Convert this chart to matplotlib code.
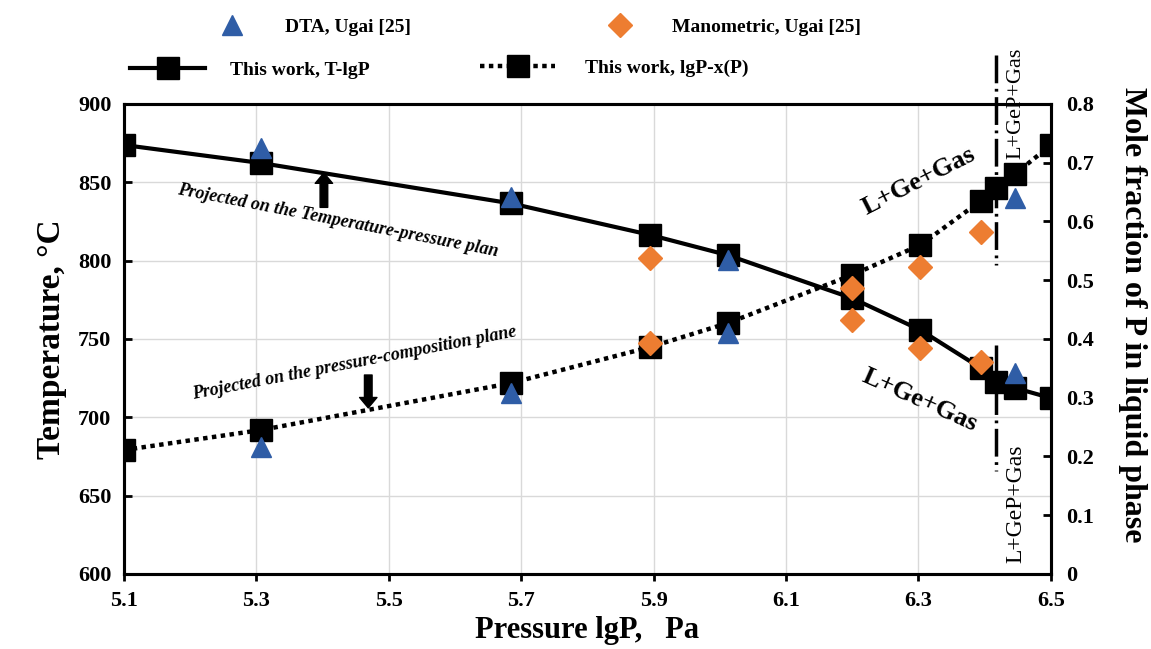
import matplotlib
matplotlib.use("Agg")
import matplotlib.pyplot as plt
from matplotlib.lines import Line2D

plt.rcParams['font.family'] = ['Liberation Serif', 'DejaVu Serif']
plt.rcParams['font.weight'] = 'bold'

# ---------------- data ----------------
lgP_calc = [5.10, 5.307, 5.685, 5.894, 6.012, 6.20, 6.303, 6.394, 6.417, 6.446, 6.50]
T_calc = [873.8, 862.3, 836.5, 816.5, 803.5, 776.0, 755.7, 731.5, 722.6, 718.7, 712.3]
xP_calc = [0.211, 0.245, 0.325, 0.386, 0.427, 0.509, 0.560, 0.635, 0.657, 0.681, 0.730]

lgP_dta = [5.307, 5.685, 6.012, 6.446]
T_dta = [872.0, 840.6, 800.5, 728.0]
xP_dta = [0.216, 0.308, 0.410, 0.640]

lgP_man = [5.894, 6.20, 6.303, 6.394]
T_man = [802.0, 762.0, 744.0, 735.0]
xP_man = [0.393, 0.487, 0.523, 0.582]

x_boundary = 6.417

x_ticks = [5.1, 5.3, 5.5, 5.7, 5.9, 6.1, 6.3, 6.5]
T_ticks = [600, 650, 700, 750, 800, 850, 900]
xP_ticks = [0, 0.1, 0.2, 0.3, 0.4, 0.5, 0.6, 0.7, 0.8]
xP_ticklabels = ['0', '0.1', '0.2', '0.3', '0.4', '0.5', '0.6', '0.7', '0.8']

BLUE = '#2F5DA6'
ORANGE = '#ED7D31'

fig = plt.figure(figsize=(11.51, 6.49), dpi=100)
ax = fig.add_axes([0.1077, 0.1156, 0.8053, 0.7242])
ax2 = ax.twinx()

ax.set_xlim(5.1, 6.5)
ax.set_ylim(600, 900)
ax2.set_ylim(0, 0.8)

ax.set_xticks(x_ticks)
ax.set_xticklabels([f'{v:.1f}' for v in x_ticks])
ax.set_yticks(T_ticks)
ax2.set_yticks(xP_ticks)
ax2.set_yticklabels(xP_ticklabels)

ax.grid(True, color='#d9d9d9', lw=1.0, zorder=0)
ax.set_axisbelow(True)

for a in (ax, ax2):
    for s in a.spines.values():
        s.set_linewidth(2.2)
        s.set_color('black')
ax.tick_params(axis='x', direction='out', length=5, width=2, pad=7, labelsize=16)
ax.tick_params(axis='y', direction='in', length=6, width=2, pad=9, labelsize=16)
ax2.tick_params(axis='y', direction='in', length=6, width=2, pad=11, labelsize=16)
for lab in ax.get_xticklabels() + ax.get_yticklabels() + ax2.get_yticklabels():
    lab.set_fontweight('bold')

# T-lgP line (left axis)
ax.plot(lgP_calc, T_calc, color='black', lw=3, marker='s', ms=15.5, zorder=3)
ax.plot(lgP_man, T_man, ls='none', marker='D', ms=12, color=ORANGE, zorder=4)
ax.plot(lgP_dta, T_dta, ls='none', marker='^', ms=15, color=BLUE, zorder=5)

# lgP-x(P) line (right axis)
ax2.plot(lgP_calc, xP_calc, color='black', lw=3.2, ls=(0, (1, 1)), marker='s', ms=15.5, zorder=3)
ax2.plot(lgP_man, xP_man, ls='none', marker='D', ms=12, color=ORANGE, zorder=4)
ax2.plot(lgP_dta, xP_dta, ls='none', marker='^', ms=15, color=BLUE, zorder=5)

# boundary dash-dot lines
ax2.plot([x_boundary, x_boundary], [0.883, 0.526], color='black', lw=2.5,
         ls=(0, (8, 1.6, 0.8, 1.6)), clip_on=False, zorder=2)
ax.plot([x_boundary, x_boundary], [746, 666], color='black', lw=2.5,
        ls=(0, (8, 1.6, 0.8, 1.6)), clip_on=False, zorder=2)

# text annotations
ax.text(5.4236, 825.3, 'Projected on the Temperature-pressure plan', rotation=-11,
        ha='center', va='center', fontsize=13, fontstyle='italic', fontweight='bold',
        rotation_mode='anchor')
ax.text(5.448, 734.7, 'Projected on the pressure-composition plane', rotation=11,
        ha='center', va='center', fontsize=13, fontstyle='italic', fontweight='bold',
        rotation_mode='anchor')
arrow_style = dict(arrowstyle='simple,head_width=1.25,head_length=0.75,tail_width=0.55',
                   color='black', mutation_scale=10, shrinkA=0, shrinkB=0)
ax.annotate('', xy=(5.402, 856.0), xytext=(5.402, 834.0), arrowprops=arrow_style)
ax.annotate('', xy=(5.469, 706.0), xytext=(5.469, 727.0), arrowprops=arrow_style)

ax.text(6.3005, 850.9, 'L+Ge+Gas', rotation=27, ha='center', va='center',
        fontsize=19, fontweight='bold', rotation_mode='anchor')
ax.text(6.302, 711.0, 'L+Ge+Gas', rotation=-24, ha='center', va='center',
        fontsize=19, fontweight='bold', rotation_mode='anchor')
ax.text(6.447, 900.5, 'L+GeP+Gas', rotation=90, ha='center', va='center',
        fontsize=16, fontweight='normal', clip_on=False)
ax.text(6.447, 645.0, 'L+GeP+Gas', rotation=90, ha='center', va='center',
        fontsize=17, fontweight='normal')

# axis labels
ax.set_xlabel('Pressure lgP,   Pa', fontsize=22, fontweight='bold', labelpad=4)
ax.set_ylabel('Temperature, °C', fontsize=24, fontweight='bold', labelpad=8)
ax2.set_ylabel('Mole fraction of P in liquid phase', fontsize=23, fontweight='bold',
               rotation=270, va='top')
ax2.yaxis.set_label_coords(1.104, 0.551)

# legend (four entries placed individually above the plot)
em = 14 * 100 / 72.0
def add_leg(handle, label, x_px, y_px, hl_px, pad_px):
    leg = fig.legend([handle], [label], loc='center left',
                     bbox_to_anchor=(x_px / 1151.0, 1 - y_px / 649.0),
                     bbox_transform=fig.transFigure, frameon=False,
                     borderpad=0, borderaxespad=0,
                     handlelength=hl_px / em, handletextpad=pad_px / em,
                     prop=dict(size=14, weight='bold'))
    return leg

h_dta = Line2D([], [], ls='none', marker='^', ms=15, color=BLUE)
h_man = Line2D([], [], ls='none', marker='D', ms=12, color=ORANGE)
h_T = Line2D([], [], color='black', lw=3, marker='s', ms=15.5)
h_x = Line2D([], [], color='black', lw=3.2, ls=(0, (1, 1)), marker='s', ms=15.5)
add_leg(h_dta, 'DTA, Ugai [25]', 212, 27, 40, 33)
add_leg(h_man, 'Manometric, Ugai [25]', 600, 27, 40, 32)
add_leg(h_T, 'This work, T-lgP', 130, 70, 75, 25)
add_leg(h_x, 'This work, lgP-x(P)', 480, 68, 75, 30)

fig.savefig('out.png', dpi=100)
